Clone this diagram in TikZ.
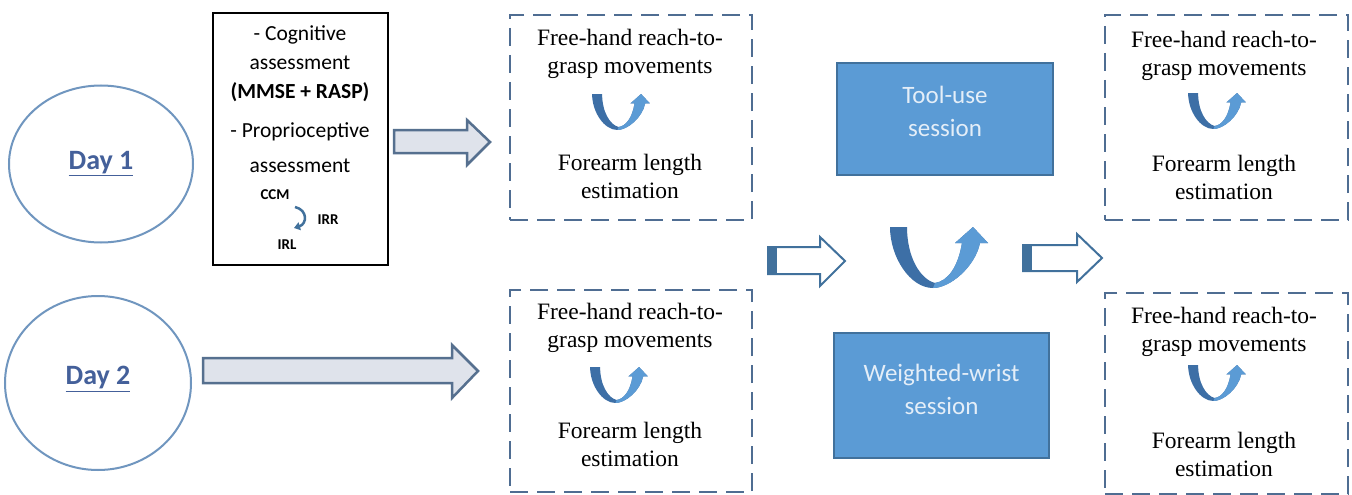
\documentclass[tikz,border=0pt]{standalone}
\usepackage{fontspec}
\setmainfont{Liberation Serif}
\newfontfamily\calfont{Carlito}
\usetikzlibrary{arrows.meta,shapes.geometric}
\definecolor{ellblue}{HTML}{7096BF}
\definecolor{daytext}{HTML}{44609A}
\definecolor{dashblue}{HTML}{4F6D92}
\definecolor{sessfill}{HTML}{5B9BD5}
\definecolor{sessedge}{HTML}{41719C}
\definecolor{sesstext}{HTML}{E4EEF8}
\definecolor{greyfill}{HTML}{DFE3EB}
\definecolor{greyedge}{HTML}{56708F}
\definecolor{udark}{HTML}{3D6FA6}
\definecolor{ulight}{HTML}{5B9BD5}
\begin{document}
\begin{tikzpicture}[x=1pt,y=-1pt,
  dayell/.style={ellipse,draw=ellblue,line width=2pt,inner sep=0pt,
    text=daytext,font=\calfont\bfseries\fontsize{28}{32}\selectfont},
  dbox/.style={draw=dashblue,line width=2.5pt,dash pattern=on 18pt off 9pt,inner sep=0pt},
  sertxt/.style={align=center,inner sep=0pt,font=\fontsize{23.5}{28}\selectfont},
  sanstxt/.style={align=center,inner sep=0pt,font=\calfont\fontsize{21.5}{29}\selectfont},
  smalllbl/.style={inner sep=0pt,font=\calfont\bfseries\fontsize{15}{17}\selectfont},
  sessbox/.style={draw=sessedge,fill=sessfill,line width=2.5pt,inner sep=0pt},
  sesstxt/.style={align=center,inner sep=0pt,text=sesstext,font=\calfont\fontsize{25}{33}\selectfont},
  greyarr/.style={draw=greyedge,fill=greyfill,line width=2.5pt,line join=miter},
  hollowarr/.style={draw=sessedge,fill=white,line width=2pt,line join=miter},
  pics/uarrow/.style={code={
    \begin{scope}[shift={(-49,-30.5)}]
      \fill[udark] (0,0) .. controls (0,30) and (20,61) .. (43,61)
        .. controls (60,61) and (85,40) .. (90,16) -- (98,16) -- (83,0) -- (65,16) -- (72,16)
        .. controls (68,40) and (58,54) .. (45,56)
        .. controls (30,52) and (17,30) .. (17,0) -- cycle;
      \fill[ulight] (43,61)
        .. controls (60,61) and (85,40) .. (90,16) -- (98,16) -- (83,0) -- (65,16) -- (72,16)
        .. controls (68,40) and (58,54) .. (45,56) -- cycle;
    \end{scope}
  }}
]
\useasboundingbox (0,0) rectangle (1352,495);
\fill[white] (0,0) rectangle (1352,495);

% Day ellipses
\node[dayell,minimum width=184pt,minimum height=157pt] (day1) at (101,164) {\underline{Day 1}};
\node[dayell,minimum width=186pt,minimum height=174pt] (day2) at (98,383) {};
\node[text=daytext,font=\calfont\bfseries\fontsize{28}{32}\selectfont,inner sep=0pt] (day2t) at (98,379) {\underline{Day 2}};

% assessment box
\node[draw=black,line width=1.3pt,minimum width=175pt,minimum height=252pt,inner sep=0pt] (assess) at (300.5,139) {};
\node[sanstxt] (cog) at (300,64) {- Cognitive\\assessment\\\textbf{(MMSE + RASP)}};
\node[sanstxt,font=\calfont\fontsize{21.5}{35}\selectfont] (prop) at (300,147.5) {- Proprioceptive\\assessment};
\node[smalllbl] (ccm) at (275,195) {CCM};
\node[smalllbl] (irr) at (328,220) {IRR};
\node[smalllbl] (irl) at (287,245) {IRL};
\coordinate (ca) at (295,207);
\coordinate (cb) at (294,228);
\draw[sessedge,line width=2.5pt,-{Triangle[length=6pt,width=8pt]}] (ca) .. controls (308,210) and (307,224) .. (cb);

% grey arrows
\draw[greyarr] (394,130) -- (467,130) -- (467,120) -- (490,142) -- (467,165) -- (467,153) -- (394,153) -- cycle;
\draw[greyarr] (203,358) -- (452,358) -- (452,345) -- (478,371) -- (452,398) -- (452,383) -- (203,383) -- cycle;

% dashed boxes
\node[dbox,minimum width=242pt,minimum height=205pt] (tl) at (631,117.5) {};
\node[sertxt] (tl1) at (630,54) {Free-hand reach-to-\\grasp movements};
\pic[scale=0.59] at (621,112) {uarrow};
\node[sertxt] (tl2) at (630,176.5) {Forearm length\\estimation};

\node[dbox,minimum width=242pt,minimum height=202pt] (bl) at (631,391) {};
\node[sertxt] (bl1) at (630,328) {Free-hand reach-to-\\grasp movements};
\pic[scale=0.59] at (619,385) {uarrow};
\node[sertxt] (bl2) at (630,444) {Forearm length\\estimation};

\node[dbox,minimum width=243pt,minimum height=205pt] (tr) at (1226.5,117.5) {};
\node[sertxt] (tr1) at (1224,55.5) {Free-hand reach-to-\\grasp movements};
\pic[scale=0.59] at (1217,111) {uarrow};
\node[sertxt] (tr2) at (1224,177.5) {Forearm length\\estimation};

\node[dbox,minimum width=243pt,minimum height=201pt] (br) at (1226.5,393.5) {};
\node[sertxt] (br1) at (1224,332) {Free-hand reach-to-\\grasp movements};
\pic[scale=0.59] at (1217,383) {uarrow};
\node[sertxt] (br2) at (1224,454) {Forearm length\\estimation};

% session boxes
\node[sessbox,minimum width=216pt,minimum height=112pt] (tool) at (945,119) {};
\node[sesstxt] (toolt) at (945,111.5) {Tool-use\\session};
\node[sessbox,minimum width=215pt,minimum height=125pt] (wrist) at (941.5,395.5) {};
\node[sesstxt] (wristt) at (941.5,389) {Weighted-wrist\\session};

% hollow arrows
\draw[hollowarr] (768,247) -- (820,247) -- (820,237) -- (845,261) -- (820,286) -- (820,274) -- (768,274) -- cycle;
\fill[sessedge] (768,247) rectangle (777,274);
\draw[hollowarr] (1023,245) -- (1077,245) -- (1077,234) -- (1102,258) -- (1077,282) -- (1077,271) -- (1023,271) -- cycle;
\fill[sessedge] (1023,245) rectangle (1032,271);

% big U arrow
\pic at (939,257.5) {uarrow};
\end{tikzpicture}
\end{document}
